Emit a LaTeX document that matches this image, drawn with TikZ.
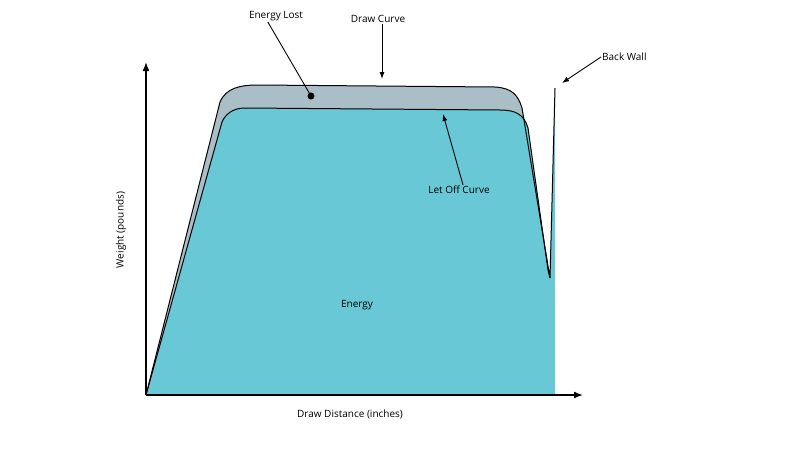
\documentclass[tikz,border=0pt]{standalone}
\usepackage{fontspec}
\setmainfont{Open Sans}
\usetikzlibrary{arrows.meta}
\definecolor{cy}{HTML}{68C8D5}
\definecolor{gr}{HTML}{A9BEC6}
\tikzset{lbl/.style={font=\fontsize{10}{12}\selectfont,inner sep=1pt},
 ax/.style={line width=1.6pt,-{Latex[length=9pt,width=7pt]}},
 ptr/.style={line width=0.9pt,-{Latex[length=7pt,width=5pt]}},
 crv/.style={line width=1pt}}
\begin{document}
\begin{tikzpicture}[x=1pt,y=-1pt]
\useasboundingbox (0,0) rectangle (800,450);
% fills
\fill[gr] (146,395) -- (220,102) .. controls (226,88) and (240,85) .. (258,85) -- (495,87) .. controls (512,88) and (518,95) .. (522,108) -- (550,278) -- (548,270) -- (528,128) .. controls (524,114) and (515,110) .. (500,110) -- (245,108) .. controls (232,108) and (225,115) .. (222,122) -- cycle;
\fill[cy] (146,395) -- (222,122) .. controls (225,115) and (232,108) .. (245,108) -- (500,110) .. controls (515,110) and (524,114) .. (528,128) -- (548,270) -- (550,278) -- (555,88) -- (555,395) -- cycle;
% curves
\draw[crv] (146,395) -- (220,102) .. controls (226,88) and (240,85) .. (258,85) -- (495,87) .. controls (512,88) and (518,95) .. (522,108) -- (550,278) -- (555,88);
\draw[crv] (146,395) -- (222,122) .. controls (225,115) and (232,108) .. (245,108) -- (500,110) .. controls (515,110) and (524,114) .. (528,128) -- (548,270) -- (550,278);
% axes
\coordinate (o) at (146,395);
\coordinate (yt) at (146,62);
\coordinate (xt) at (583,395);
\draw[ax] (o) -- (yt);
\draw[ax] (o) -- (xt);
% labels
\node[lbl] (el) at (276,16) {Energy Lost};
\node[lbl] (dc) at (378,19) {Draw Curve};
\node[lbl] (lo) at (459,190) {Let Off Curve};
\node[lbl,anchor=west] (bw) at (601,57) {Back Wall};
\node[lbl] (en) at (357,305) {Energy};
\node[lbl,rotate=90] (wp) at (121,230) {Weight (pounds)};
\node[lbl] (dd) at (350,414) {Draw Distance (inches)};
\coordinate (eld) at (311,96);
\coordinate (dca) at (382,79);
\coordinate (loa) at (443,114);
\coordinate (bwa) at (562,83);
\fill (eld) circle (3.5pt);
\draw[line width=0.9pt] (el.south west) ++(20,0) -- (eld);
\draw[ptr] (dc.south) ++(4,0) -- (dca);
\draw[ptr] (lo.north) ++(4,0) -- (loa);
\draw[ptr] (bw.west) -- (bwa);
\end{tikzpicture}
\end{document}
